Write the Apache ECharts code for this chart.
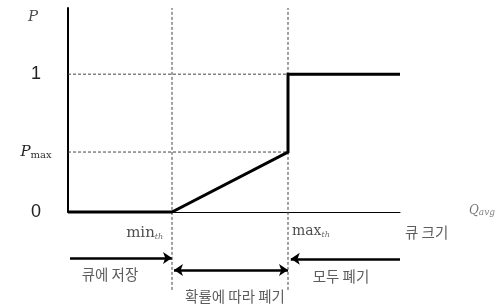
<!DOCTYPE html>
<html lang="ko">
<head>
    <meta charset="UTF-8">
    <title>RED 폐기 확률</title>
    <script src="https://cdn.jsdelivr.net/npm/echarts@6/dist/echarts.min.js"></script>
</head>
<body style="margin:0;background:#fff">
<div id="main" style="width:499px;height:307px"></div>
<script type="text/javascript">
    // 큐 크기(평균) 기준 임계값
    var minTh = 26;
    var maxTh = 55;
    var queueEnd = 83;
    var pMax = 0.435;

    // 폐기 확률 곡선
    var curveX = [0, minTh, maxTh, maxTh, queueEnd];
    var curveP = [0, 0, pMax, 1, 1];

    // 눈금 라벨
    var yTickValues = [0, pMax, 1];
    var yTickLabels = ['0', '{p|P}{s|max}', '1'];

    // 점선 안내선
    var guideX = [minTh, maxTh];
    var guideY = [1, pMax];

    // 아래 화살표 (시작, 끝, 높이, 양방향 여부)
    var arrowFrom = [0.5, minTh + 0.5, queueEnd];
    var arrowTo = [minTh, maxTh, maxTh + 0.7];
    var arrowY = [-0.333, -0.42, -0.34];
    var arrowBoth = [false, true, false];

    // 구간 설명
    var noteText = ['큐에 저장', '확률에 따라 폐기', '모두 폐기', '큐 크기'];
    var noteX = [10.5, 41.75, 68.25, 84.25];
    var noteY = [-0.45, -0.615, -0.47, -0.152];
    var notePos = ['inside', 'inside', 'inside', 'right'];

    var myChart = echarts.init(document.getElementById('main'));

    var series = [];

    guideX.forEach(function (x) {
        series.push({
            type: 'line', symbol: 'none', clip: false, silent: true,
            data: [[x, -0.565], [x, 1.48]],
            lineStyle: {color: '#444', width: 1, type: [3, 2]}
        });
    });
    guideY.forEach(function (y) {
        series.push({
            type: 'line', symbol: 'none', clip: false, silent: true,
            data: [[0, y], [maxTh, y]],
            lineStyle: {color: '#444', width: 1, type: [3, 2]}
        });
    });

    series.push({
        type: 'line', symbol: 'none', clip: false, silent: true,
        data: curveX.map(function (x, i) { return [x, curveP[i]]; }),
        lineStyle: {color: '#000', width: 3, join: 'miter'}
    });

    series.push({
        type: 'lines', coordinateSystem: 'cartesian2d', clip: false, silent: true,
        symbolSize: 9,
        lineStyle: {color: '#000', width: 2.5, opacity: 1},
        data: arrowFrom.map(function (x, i) {
            return {
                coords: [[x, arrowY[i]], [arrowTo[i], arrowY[i]]],
                symbol: arrowBoth[i] ? ['arrow', 'arrow'] : ['none', 'arrow']
            };
        })
    });

    var notes = noteText.map(function (t, i) {
        return {
            value: [noteX[i], noteY[i]],
            label: {
                show: true, formatter: t, position: notePos[i], distance: 0,
                fontFamily: 'Noto Sans CJK KR', fontSize: 14.5, color: '#333'
            }
        };
    });
    // 임계값 라벨과 축 이름
    notes.push({
        value: [23.8, -0.152],
        label: {show: true, position: 'left', distance: 0, formatter: '{m|min}{s|th}',
            rich: {m: {fontFamily: 'DejaVu Serif', fontSize: 15, color: '#222'},
                   s: {fontFamily: 'DejaVu Serif', fontStyle: 'italic', fontSize: 8, color: '#444', padding: [8, 0, 0, 0]}}}
    });
    notes.push({
        value: [56, -0.14],
        label: {show: true, position: 'right', distance: 0, formatter: '{m|max}{s|th}',
            rich: {m: {fontFamily: 'DejaVu Serif', fontSize: 14, color: '#222'},
                   s: {fontFamily: 'DejaVu Serif', fontStyle: 'italic', fontSize: 8, color: '#444', padding: [8, 0, 0, 0]}}}
    });
    notes.push({
        value: [-8.75, 1.413],
        label: {show: true, position: 'inside', formatter: 'P',
            fontFamily: 'DejaVu Serif', fontStyle: 'italic', fontSize: 15, color: '#222'}
    });
    notes.push({
        value: [103.5, 0.005],
        label: {show: true, position: 'inside', formatter: '{q|Q}{s|avg}',
            rich: {q: {fontFamily: 'DejaVu Serif', fontStyle: 'italic', fontSize: 12, color: '#555'},
                   s: {fontFamily: 'DejaVu Serif', fontStyle: 'italic', fontSize: 9, color: '#666', padding: [3, 0, 0, 0]}}}
    });

    series.push({
        type: 'scatter', symbolSize: 0, clip: false, silent: true,
        data: notes
    });

    var option = {
        animation: false,
        grid: {left: 68, right: 99, top: 8, bottom: 95},
        xAxis: {
            type: 'value', min: 0, max: queueEnd,
            axisLine: {onZero: false, lineStyle: {color: '#000', width: 1}},
            axisTick: {show: false}, axisLabel: {show: false}, splitLine: {show: false}
        },
        yAxis: {
            type: 'value', min: 0, max: 1.48,
            axisLine: {show: true, onZero: false, lineStyle: {color: '#000', width: 2}},
            axisTick: {show: false}, splitLine: {show: false},
            axisLabel: {
                customValues: yTickValues,
                align: 'center', margin: 32, verticalAlign: 'middle',
                fontFamily: 'Liberation Sans', fontSize: 18, color: '#222',
                formatter: function (v) { return yTickLabels[yTickValues.indexOf(v)]; },
                rich: {
                    p: {fontFamily: 'DejaVu Serif', fontStyle: 'italic', fontSize: 15, color: '#222'},
                    s: {fontFamily: 'DejaVu Serif', fontSize: 10, color: '#333', padding: [6, 0, 0, 0]}
                }
            }
        },
        series: series
    };

    myChart.setOption(option);
</script>
</body>
</html>
